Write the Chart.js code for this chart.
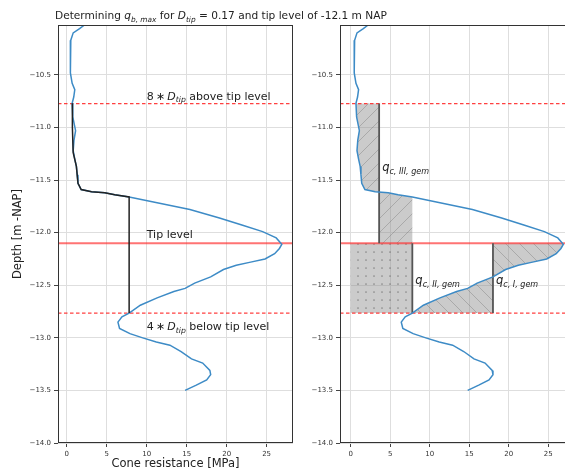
<!DOCTYPE html>
<html>
<head>
<meta charset="utf-8">
<script src="https://cdn.jsdelivr.net/npm/chart.js@4/dist/chart.umd.min.js"></script>
<style>
  html, body { margin: 0; padding: 0; background: #fff; overflow: hidden; }
  #wrap { position: relative; width: 565px; height: 475px; overflow: hidden; }
  #left  { position: absolute; left: 0; top: 0; width: 300px; height: 475px; }
  #right { position: absolute; left: 290px; top: 0; width: 300px; height: 475px; }
  #title { position: absolute; left: 55px; top: 9px; font: 10.6px "DejaVu Sans"; line-height: 12px;
           color: #222; white-space: nowrap; }
  #title sub { font-size: 7.4px; vertical-align: -2.5px; line-height: 0; }
</style>
</head>
<body>
<div id="wrap">
  <canvas id="left" width="300" height="475"></canvas>
  <canvas id="right" width="300" height="475"></canvas>
  <div id="title"></div>
</div>
<script>
// CPT profile: depth [m NAP] and cone resistance qc [MPa]
const depth = [-10.02, -10.06, -10.10, -10.17, -10.30, -10.48, -10.58, -10.64, -10.71, -10.77,
               -10.90, -11.03, -11.12, -11.22, -11.30, -11.37, -11.45, -11.53, -11.59, -11.61,
               -11.62, -11.64, -11.66, -11.72, -11.78, -11.86, -11.93, -11.99, -12.05, -12.11,
               -12.15, -12.20, -12.25, -12.28, -12.31, -12.35, -12.42, -12.48, -12.53, -12.56,
               -12.62, -12.69, -12.765, -12.80, -12.85, -12.91, -12.96, -13.00, -13.04, -13.07,
               -13.13, -13.20, -13.24, -13.31, -13.35, -13.40, -13.45, -13.50];
const qc    = [2.3, 1.6, 0.8, 0.5, 0.45, 0.45, 0.67, 1.0, 0.87, 0.67,
               0.75, 1.1, 0.9, 0.8, 1.0, 1.2, 1.3, 1.4, 1.8, 3.1,
               4.75, 6.0, 7.8, 11.6, 15.4, 19.1, 22.0, 24.5, 26.2, 26.9,
               26.6, 26.0, 24.8, 23.0, 21.2, 19.6, 18.0, 16.0, 14.8, 13.4,
               11.3, 9.2, 7.8, 6.9, 6.4, 6.6, 7.9, 9.5, 11.2, 12.9,
               14.3, 15.6, 17.0, 17.9, 18.0, 17.5, 16.2, 14.8];

// Trajectory III (minimum envelope from the tip upward to 8*D)
const pathDepth = [-10.77, -11.00, -11.24, -11.37, -11.53, -11.59, -11.61, -11.62, -11.64, -11.66];
const pathQc    = [0.7, 0.7, 0.8, 1.2, 1.4, 1.8, 3.1, 4.75, 6.0, 7.8];

// Pile tip and averaged cone resistances
const tipLevel = -12.1;
const dTip = 0.166;
const qcI = 18.0, qcII = 7.8, qcIII = 3.6;

// Axis ticks
const depthTicks = [-10.5, -11.0, -11.5, -12.0, -12.5, -13.0, -13.5, -14.0];
const qcTicks = [0, 5, 10, 15, 20, 25];

const upper = tipLevel + 8 * dTip;
const lower = tipLevel - 4 * dTip;
const FONT = '"DejaVu Sans", sans-serif';
const X_LEFT = [-1.1, 28.3], X_RIGHT = [-1.35, 28.25], Y_RANGE = [-14.0, -10.025];

document.getElementById('title').innerHTML =
  'Determining <i>q</i><sub><i>b, max</i></sub> for <i>D</i><sub><i>tip</i></sub> = ' +
  dTip.toFixed(2) + ' and tip level of ' + tipLevel + ' m NAP';

const pts = (xs, ys) => xs.map((x, i) => ({ x, y: ys[i] }));
function curveAt(d) {
  for (let i = 0; i < depth.length - 1; i++) {
    if (depth[i] >= d && depth[i + 1] <= d) {
      const t = (d - depth[i]) / (depth[i + 1] - depth[i]);
      return qc[i] + t * (qc[i + 1] - qc[i]);
    }
  }
  return qc[qc.length - 1];
}
function sliceCurve(top, bottom) {
  const out = [{ x: curveAt(top), y: top }];
  depth.forEach((d, i) => { if (d < top && d > bottom) out.push({ x: qc[i], y: d }); });
  out.push({ x: curveAt(bottom), y: bottom });
  return out;
}

// Hatch patterns for the averaging areas
function pattern(kind) {
  const T = kind === 'dot' ? 8 : 14;
  const c = document.createElement('canvas');
  c.width = T; c.height = T;
  const g = c.getContext('2d');
  g.fillStyle = 'rgba(140,140,140,0.45)';
  g.fillRect(0, 0, T, T);
  if (kind === 'dot') {
    g.fillStyle = 'rgba(80,80,80,0.55)';
    g.beginPath(); g.arc(T / 2, T / 2, 0.85, 0, Math.PI * 2); g.fill();
  } else {
    g.strokeStyle = 'rgba(95,95,95,0.4)';
    g.lineWidth = 0.8;
    g.beginPath();
    if (kind === 'fwd') {
      g.moveTo(-1, T + 1); g.lineTo(T + 1, -1);
    } else {
      g.moveTo(-1, -1); g.lineTo(T + 1, T + 1);
    }
    g.stroke();
  }
  return g.createPattern(c, 'repeat');
}

const base = { pointRadius: 0, pointHoverRadius: 0, tension: 0, fill: false, borderCapStyle: 'butt' };
const hLine = (xr, yv, color, width, dash) => Object.assign({}, base, {
  data: [{ x: xr[0], y: yv }, { x: xr[1], y: yv }],
  borderColor: color, borderWidth: width, borderDash: dash || []
});
const vLine = (xv, y0, y1) => Object.assign({}, base, {
  data: [{ x: xv, y: y0 }, { x: xv, y: y1 }], borderColor: '#555', borderWidth: 1.8
});
const area = (data, bg) => Object.assign({}, base, {
  data, fill: 'shape', backgroundColor: bg, borderWidth: 0, borderColor: 'rgba(0,0,0,0)'
});
const curveSet = () => Object.assign({}, base, {
  data: pts(qc, depth), borderColor: '#3d8bc6', borderWidth: 1.5
});
const redLines = xr => [
  hLine(xr, tipLevel, 'rgba(255,40,40,0.65)', 2),
  hLine(xr, upper, 'rgba(255,30,30,0.85)', 1.3, [3.5, 2.5]),
  hLine(xr, lower, 'rgba(255,30,30,0.85)', 1.3, [3.5, 2.5])
];

function richText(ctx, x, y, parts, size) {
  let cx = x;
  ctx.textAlign = 'left';
  ctx.textBaseline = 'alphabetic';
  for (const [txt, st] of parts) {
    const sub = st.includes('s'), it = st.includes('i');
    const fs = sub ? size * 0.7 : size;
    ctx.font = (it ? 'italic ' : '') + fs + 'px ' + FONT;
    ctx.fillText(txt, cx, y + (sub ? size * 0.24 : 0));
    cx += ctx.measureText(txt).width;
  }
}
const labelPlugin = items => ({
  id: 'richLabels',
  afterDatasetsDraw(chart) {
    const { ctx, scales: { x, y } } = chart;
    ctx.save();
    ctx.fillStyle = '#222';
    for (const L of items) {
      richText(ctx, x.getPixelForValue(L.x) + (L.dx || 0), y.getPixelForValue(L.y) + (L.dy || 0), L.parts, L.size);
    }
    ctx.restore();
  }
});
const framePlugin = {
  id: 'frame',
  afterDatasetsDraw(chart) {
    const { ctx, chartArea: a } = chart;
    ctx.save();
    ctx.strokeStyle = '#333';
    ctx.lineWidth = 1;
    ctx.strokeRect(Math.round(a.left) + 0.5, Math.round(a.top) + 0.5,
                   Math.round(a.right - a.left) - 1, Math.round(a.bottom - a.top) - 1);
    ctx.restore();
  }
};

function scaleOpts(xr, yWidth, withTitles) {
  const tickFont = { family: FONT, size: 7 };
  const grid = { color: '#dedede', lineWidth: 1, tickColor: '#444', tickLength: 4, drawTicks: true };
  return {
    x: {
      type: 'linear', min: xr[0], max: xr[1],
      afterBuildTicks: s => { s.ticks = qcTicks.map(v => ({ value: v })); },
      afterFit: s => { s.height = 32; },
      ticks: { font: tickFont, color: '#333', padding: 3, maxRotation: 0, autoSkip: false,
               callback: v => String(v) },
      grid, border: { display: false },
      title: { display: withTitles, text: 'Cone resistance [MPa]', color: '#222',
               font: { family: FONT, size: 11.5 }, padding: { top: 0, bottom: 4 } }
    },
    y: {
      type: 'linear', min: Y_RANGE[0], max: Y_RANGE[1],
      afterBuildTicks: s => { s.ticks = depthTicks.map(v => ({ value: v })); },
      afterFit: s => { s.width = yWidth; },
      ticks: { font: tickFont, color: '#333', padding: 3, autoSkip: false,
               callback: v => v.toFixed(1).replace('-', '\u2212') },
      grid, border: { display: false },
      title: { display: withTitles, text: 'Depth [m -NAP]', color: '#222',
               font: { family: FONT, size: 11.5 }, padding: { top: 4, bottom: 0 } }
    }
  };
}
const common = (padding, scales) => ({
  responsive: false, animation: false, devicePixelRatio: 1,
  layout: { padding },
  plugins: { legend: { display: false }, tooltip: { enabled: false } },
  events: [],
  scales
});

// Left panel: profile with trajectory and reference levels
new Chart(document.getElementById('left'), {
  type: 'line',
  data: {
    datasets: [
      Object.assign({}, base, {
        data: pts(pathQc, pathDepth).concat([{ x: qcII, y: lower }]),
        borderColor: '#222', borderWidth: 1.5
      }),
      curveSet(),
      ...redLines(X_LEFT)
    ]
  },
  options: common({ left: 7, right: 7, top: 25, bottom: 0 }, scaleOpts(X_LEFT, 51, true)),
  plugins: [framePlugin, labelPlugin([
    { x: 10, y: upper, dy: -4, size: 11,
      parts: [['8\u2009\u2217\u2009', ''], ['D', 'i'], ['tip', 'is'], [' above tip level', '']] },
    { x: 10, y: tipLevel, dy: -5, size: 11, parts: [['Tip level', '']] },
    { x: 10, y: lower, dy: 17, size: 11,
      parts: [['4\u2009\u2217\u2009', ''], ['D', 'i'], ['tip', 'is'], [' below tip level', '']] }
  ])]
});

// Right panel: averaging areas for qc,I, qc,II and qc,III
const pathEnd = pathDepth[pathDepth.length - 1];
const areaIII = sliceCurve(upper, pathEnd).concat([
  { x: qcII, y: tipLevel }, { x: qcIII, y: tipLevel }, { x: qcIII, y: upper }]);
const areaII = [{ x: 0, y: tipLevel }, { x: qcII, y: tipLevel }, { x: qcII, y: lower }, { x: 0, y: lower }];
const areaI = sliceCurve(tipLevel, lower).concat([{ x: qcI, y: lower }, { x: qcI, y: tipLevel }]);

new Chart(document.getElementById('right'), {
  type: 'line',
  data: {
    datasets: [
      curveSet(),
      vLine(qcIII, upper, tipLevel),
      vLine(qcII, tipLevel, lower),
      vLine(qcI, tipLevel, lower),
      ...redLines(X_RIGHT),
      area(areaIII, pattern('fwd')),
      area(areaII, pattern('dot')),
      area(areaI, pattern('back'))
    ]
  },
  options: common({ left: 0, right: 16, top: 25, bottom: 0 }, scaleOpts(X_RIGHT, 50, false)),
  plugins: [framePlugin, labelPlugin([
    { x: qcIII, y: (upper + tipLevel) / 2, dx: 3, dy: -2, size: 11.5,
      parts: [['q', 'i'], ['c, III, gem', 'is']] },
    { x: qcII, y: (tipLevel + lower) / 2, dx: 3, dy: 6, size: 11.5,
      parts: [['q', 'i'], ['c, II, gem', 'is']] },
    { x: qcI, y: (tipLevel + lower) / 2, dx: 3, dy: 6, size: 11.5,
      parts: [['q', 'i'], ['c, I, gem', 'is']] }
  ])]
});
</script>
</body>
</html>
